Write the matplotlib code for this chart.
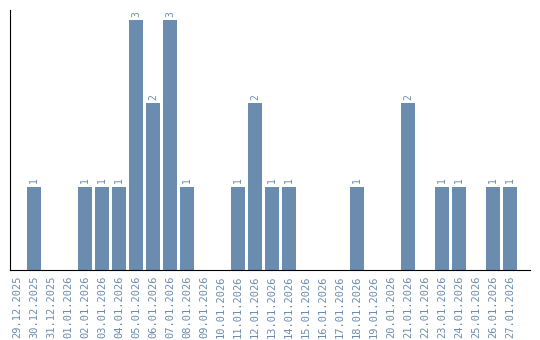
import numpy as np
import matplotlib.pyplot as plt

dates = ["29.12.2025", "30.12.2025", "31.12.2025", "01.01.2026", "02.01.2026",
         "03.01.2026", "04.01.2026", "05.01.2026", "06.01.2026", "07.01.2026",
         "08.01.2026", "09.01.2026", "10.01.2026", "11.01.2026", "12.01.2026",
         "13.01.2026", "14.01.2026", "15.01.2026", "16.01.2026", "17.01.2026",
         "18.01.2026", "19.01.2026", "20.01.2026", "21.01.2026", "22.01.2026",
         "23.01.2026", "24.01.2026", "25.01.2026", "26.01.2026", "27.01.2026"]
counts = [0, 1, 0, 0, 1, 1, 1, 3, 2, 3, 1, 0, 0, 1, 2, 1, 1, 0, 0, 0,
          1, 0, 0, 2, 0, 1, 1, 0, 1, 1]

bar_color = "#6a8caf"

fig = plt.figure(figsize=(5.4, 3.4), dpi=100)
ax = fig.add_axes([10/540, 70/340, 520/540, 260/340])

x = np.arange(len(dates))
ax.bar(x, counts, width=0.82, color=bar_color)

for xi, c in zip(x, counts):
    if c > 0:
        ax.text(xi, c + 0.04, str(c), rotation=90, ha="center", va="bottom",
                fontsize=7, color=bar_color, family="DejaVu Sans Mono")

ax.set_xlim(-0.41, 30.18)
ax.set_ylim(0, 3.12)
ax.set_xticks(x)
ax.set_xticklabels(dates, rotation=90, fontsize=7.5, color=bar_color,
                   family="DejaVu Sans Mono")
ax.tick_params(axis="x", length=0, pad=4)
ax.set_yticks([])
ax.spines["top"].set_visible(False)
ax.spines["right"].set_visible(False)
ax.spines["left"].set_color("black")
ax.spines["bottom"].set_color("black")

fig.savefig("out.png", dpi=100)
